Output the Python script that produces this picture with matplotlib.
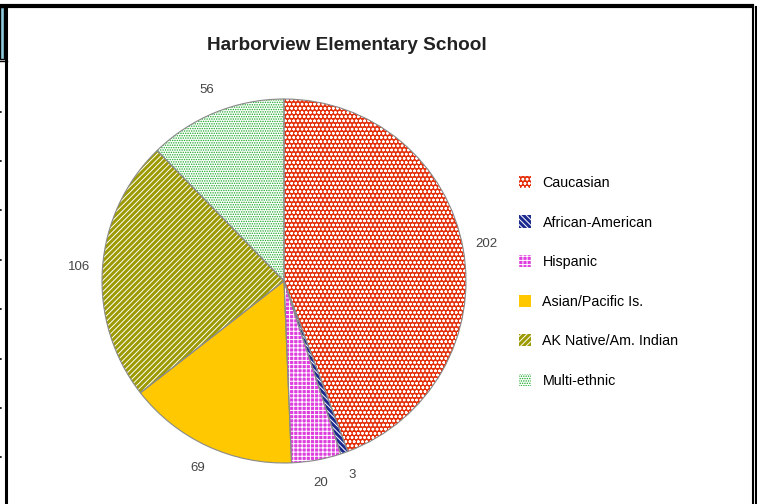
import matplotlib
matplotlib.use('Agg')
import matplotlib.pyplot as plt
from matplotlib.lines import Line2D
from matplotlib.patches import Rectangle

plt.rcParams['font.family'] = ['Liberation Sans', 'DejaVu Sans']
plt.rcParams['hatch.linewidth'] = 0.7

# data
groups = ['Caucasian', 'African-American', 'Hispanic', 'Asian/Pacific Is.',
          'AK Native/Am. Indian', 'Multi-ethnic']
counts = [202, 3, 20, 69, 106, 56]

face_colors = ['#e5300c', '#1c2a90', '#de3ede', '#ffc800', '#9c9a00', '#ffffff']
hatch_colors = ['#ffffff', '#ffffff', '#ffffff', '#ffc800', '#ffffff', '#18a825']
hatches = ['oooo', '\\' * 6, '++++', '', '/' * 6, '.' * 7]

W, H = 757, 504
fig = plt.figure(figsize=(W / 100, H / 100), dpi=100)

# pie centre (284, 281) px, radius 182 px
cx, cy, r = 284, 281, 182
ax = fig.add_axes([(cx - r) / W, (H - cy - r) / H, 2 * r / W, 2 * r / H])

wedges, texts = ax.pie(counts, colors=face_colors, hatch=hatches, labels=counts,
                       startangle=90, counterclock=False, labeldistance=1.13,
                       wedgeprops=dict(linewidth=0),
                       textprops=dict(fontsize=9.5, color='#444444'))
for w, hc in zip(wedges, hatch_colors):
    w.set_edgecolor(hc)
for t in texts:
    t.set_ha('center')
    t.set_va('center')

# outlines on top
ax.pie(counts, colors=['none'] * len(counts), startangle=90, counterclock=False,
       wedgeprops=dict(linewidth=0.8, edgecolor='#8a8a8a', fill=False))
ax.set_xlim(-1, 1)
ax.set_ylim(-1, 1)

fig.text(347 / W, 1 - 45 / H, 'Harborview Elementary School', ha='center', va='center',
         fontsize=13.7, fontweight='bold', color='#222222')

fig.legend(wedges, groups, loc='upper left', bbox_to_anchor=(506 / W, 1 - 163 / H),
           frameon=False, fontsize=10.3, labelspacing=1.78, handlelength=0.85,
           handleheight=0.95, handletextpad=0.8)

# frame around the picture
frame = dict(color='black', transform=fig.transFigure, clip_on=False)
fig.add_artist(Line2D([0, 752 / W], [1 - 5.5 / H] * 2, lw=3, **frame))
fig.add_artist(Line2D([6 / W] * 2, [0, 1 - 5.5 / H], lw=2.2, **frame))
fig.add_artist(Line2D([753 / W] * 2, [0, 1 - 7 / H], lw=1.5, **frame))
fig.add_artist(Line2D([756 / W] * 2, [0, 1 - 7 / H], lw=1.5, **frame))
fig.add_artist(Rectangle((0, 1 - 59 / H), 4 / W, 52 / H, facecolor='#8fcbdc',
                         edgecolor='black', lw=1, transform=fig.transFigure))
fig.add_artist(Line2D([0, 7 / W], [1 - 61 / H] * 2, lw=1, **frame))
for ty in [112, 161, 210, 260, 309, 359, 408, 457]:
    fig.add_artist(Line2D([0, 3 / W], [1 - ty / H] * 2, lw=1.2, ls=':', **frame))

fig.savefig('out.png', dpi=100)
